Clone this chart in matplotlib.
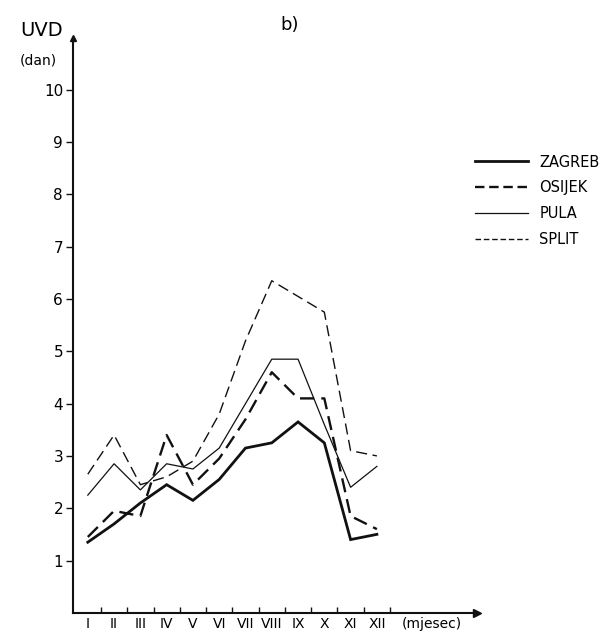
import matplotlib
matplotlib.use('Agg')
from matplotlib import pyplot as plt
from matplotlib.lines import Line2D

months = ['I', 'II', 'III', 'IV', 'V', 'VI', 'VII', 'VIII', 'IX', 'X', 'XI', 'XII']
zagreb = [1.35, 1.7, 2.1, 2.45, 2.15, 2.55, 3.15, 3.25, 3.65, 3.25, 1.4, 1.5]
osijek = [1.45, 1.95, 1.85, 3.4, 2.45, 2.95, 3.7, 4.6, 4.1, 4.1, 1.85, 1.6]
pula = [2.25, 2.85, 2.35, 2.85, 2.75, 3.15, 4.0, 4.85, 4.85, 3.6, 2.4, 2.8]
split = [2.65, 3.4, 2.45, 2.6, 2.9, 3.8, 5.2, 6.35, 6.05, 5.75, 3.1, 3.0]
yticks = list(range(1, 11))

ink = '#111111'

fig = plt.figure(figsize=(6.12, 6.37), dpi=100)
ax = fig.add_axes([0.119, 0.038, 0.660, 0.903])

x = list(range(1, 13))
ax.plot(x, zagreb, color=ink, lw=2.0, solid_joinstyle='miter')
ax.plot(x, osijek, color=ink, lw=1.7, dashes=(6, 3))
ax.plot(x, pula, color=ink, lw=0.9)
ax.plot(x, split, color=ink, lw=1.0, dashes=(8, 4))

ax.set_xlim(0.43, 15.8)
ax.set_ylim(0, 11)

for s in ['top', 'right']:
    ax.spines[s].set_visible(False)
for s in ['left', 'bottom']:
    ax.spines[s].set_linewidth(1.5)
    ax.spines[s].set_color(ink)

# arrow heads on the axes
ax.plot(1, 0, '>', color=ink, ms=6, transform=ax.transAxes, clip_on=False)
ax.plot(0, 1, '^', color=ink, ms=5, transform=ax.transAxes, clip_on=False)

ax.set_yticks(yticks)
ax.set_yticklabels([str(v) for v in yticks], fontsize=11)
ax.tick_params(axis='y', direction='out', length=5, width=1, color=ink, pad=2)

ax.set_xticks([i + 0.5 for i in x])
ax.set_xticklabels([])
ax.tick_params(axis='x', which='major', direction='in', length=4, width=1, color=ink)
ax.set_xticks(x + [14.08], minor=True)
ax.set_xticklabels(months + ['(mjesec)'], minor=True, fontsize=10)
ax.tick_params(axis='x', which='minor', length=0, pad=3)

fig.text(0.033, 0.952, 'UVD', fontsize=14, va='center', ha='left')
fig.text(0.033, 0.905, '(dan)', fontsize=10, va='center', ha='left')
fig.text(0.458, 0.960, 'b)', fontsize=13, va='center', ha='left')

handles = [Line2D([], [], color=ink, lw=2.0),
           Line2D([], [], color=ink, lw=1.7, dashes=(4, 2)),
           Line2D([], [], color=ink, lw=0.9),
           Line2D([], [], color=ink, lw=1.0, dashes=(4, 2))]
labels = ['ZAGREB', 'OSIJEK', 'PULA', 'SPLIT']
fig.legend(handles, labels, loc='upper left', bbox_to_anchor=(0.755, 0.778),
           frameon=False, fontsize=10.5, handlelength=3.6, handletextpad=0.8,
           labelspacing=0.75)

fig.savefig('out.png', dpi=100)
